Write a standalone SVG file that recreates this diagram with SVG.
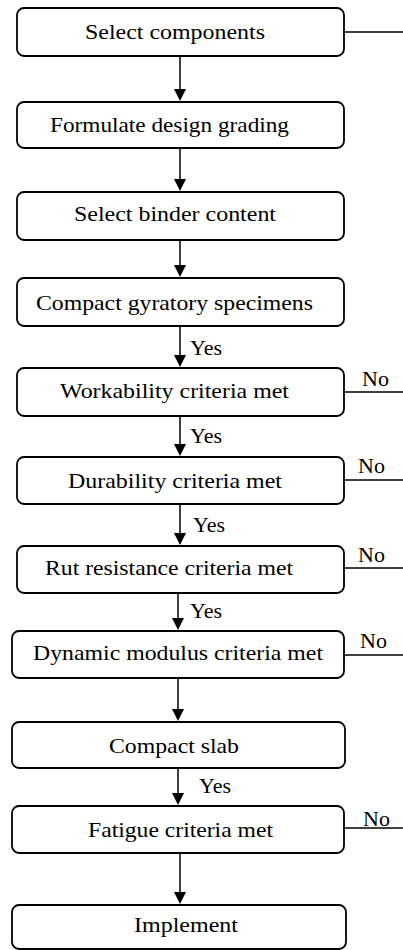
<svg xmlns="http://www.w3.org/2000/svg" width="403" height="950" viewBox="0 0 403 950">
<style>
.box{fill:#fff;stroke:#000;stroke-width:1.8}
.ln{stroke:#000;stroke-width:1.5;fill:none}
.ah{fill:#000}
</style>
<rect width="403" height="950" fill="#fff"/>
<g id="connectors">
<line class="ln" x1="180" y1="56" x2="180" y2="90"/><polygon class="ah" points="174,89 186,89 180,101"/>
<line class="ln" x1="180" y1="148" x2="180" y2="180"/><polygon class="ah" points="174,179 186,179 180,191"/>
<line class="ln" x1="180" y1="240" x2="180" y2="266"/><polygon class="ah" points="174,265 186,265 180,277"/>
<line class="ln" x1="180" y1="326" x2="180" y2="356"/><polygon class="ah" points="174,355 186,355 180,367"/>
<line class="ln" x1="180" y1="416" x2="180" y2="445"/><polygon class="ah" points="174,444 186,444 180,456"/>
<line class="ln" x1="180" y1="504" x2="180" y2="534"/><polygon class="ah" points="174,533 186,533 180,545"/>
<line class="ln" x1="178" y1="593" x2="178" y2="619"/><polygon class="ah" points="172,618 184,618 178,630"/>
<line class="ln" x1="178" y1="678" x2="178" y2="710"/><polygon class="ah" points="172,709 184,709 178,721"/>
<line class="ln" x1="178" y1="768" x2="178" y2="794"/><polygon class="ah" points="172,793 184,793 178,805"/>
<line class="ln" x1="180" y1="853" x2="180" y2="893"/><polygon class="ah" points="174,892 186,892 180,904"/>
<line class="ln" x1="344" y1="32" x2="403" y2="32"/>
<line class="ln" x1="344" y1="392" x2="403" y2="392"/>
<line class="ln" x1="344" y1="480" x2="403" y2="480"/>
<line class="ln" x1="344" y1="568" x2="403" y2="568"/>
<line class="ln" x1="344" y1="655" x2="403" y2="655"/>
<line class="ln" x1="344" y1="828" x2="403" y2="828"/>
<text x="190" y="355" font-family="Liberation Serif, serif" font-size="22">Yes</text>
<text x="190" y="443" font-family="Liberation Serif, serif" font-size="22">Yes</text>
<text x="193" y="532" font-family="Liberation Serif, serif" font-size="22">Yes</text>
<text x="190" y="618" font-family="Liberation Serif, serif" font-size="22">Yes</text>
<text x="199" y="793" font-family="Liberation Serif, serif" font-size="22">Yes</text>
<text x="362" y="386" font-family="Liberation Serif, serif" font-size="22">No</text>
<text x="358" y="473" font-family="Liberation Serif, serif" font-size="22">No</text>
<text x="358" y="562" font-family="Liberation Serif, serif" font-size="22">No</text>
<text x="360" y="648" font-family="Liberation Serif, serif" font-size="22">No</text>
<text x="363" y="826" font-family="Liberation Serif, serif" font-size="22">No</text>
</g>
<g id="n1"><rect class="box" x="17" y="8" width="327" height="48" rx="7"/><text x="85" y="39" font-family="Liberation Serif, serif" font-size="22" textLength="180" lengthAdjust="spacingAndGlyphs">Select components</text></g>
<g id="n2"><rect class="box" x="17" y="102" width="327" height="46" rx="7"/><text x="50" y="132" font-family="Liberation Serif, serif" font-size="22" textLength="239" lengthAdjust="spacingAndGlyphs">Formulate design grading</text></g>
<g id="n3"><rect class="box" x="17" y="192" width="327" height="48" rx="7"/><text x="74" y="221" font-family="Liberation Serif, serif" font-size="22" textLength="202" lengthAdjust="spacingAndGlyphs">Select binder content</text></g>
<g id="n4"><rect class="box" x="17" y="278" width="327" height="48" rx="7"/><text x="36" y="310" font-family="Liberation Serif, serif" font-size="22" textLength="277" lengthAdjust="spacingAndGlyphs">Compact gyratory specimens</text></g>
<g id="n5"><rect class="box" x="17" y="368" width="327" height="48" rx="7"/><text x="60" y="398" font-family="Liberation Serif, serif" font-size="22" textLength="229" lengthAdjust="spacingAndGlyphs">Workability criteria met</text></g>
<g id="n6"><rect class="box" x="17" y="457" width="327" height="47" rx="7"/><text x="68" y="488" font-family="Liberation Serif, serif" font-size="22" textLength="214" lengthAdjust="spacingAndGlyphs">Durability criteria met</text></g>
<g id="n7"><rect class="box" x="17" y="546" width="327" height="47" rx="7"/><text x="45" y="575" font-family="Liberation Serif, serif" font-size="22" textLength="248" lengthAdjust="spacingAndGlyphs">Rut resistance criteria met</text></g>
<g id="n8"><rect class="box" x="12" y="631" width="332" height="47" rx="7"/><text x="33" y="660" font-family="Liberation Serif, serif" font-size="22" textLength="290" lengthAdjust="spacingAndGlyphs">Dynamic modulus criteria met</text></g>
<g id="n9"><rect class="box" x="12" y="722" width="333" height="46" rx="7"/><text x="109" y="753" font-family="Liberation Serif, serif" font-size="22" textLength="130" lengthAdjust="spacingAndGlyphs">Compact slab</text></g>
<g id="n10"><rect class="box" x="12" y="806" width="332" height="47" rx="7"/><text x="88" y="837" font-family="Liberation Serif, serif" font-size="22" textLength="185" lengthAdjust="spacingAndGlyphs">Fatigue criteria met</text></g>
<g id="n11"><rect class="box" x="12" y="905" width="334" height="44" rx="7"/><text x="134" y="932" font-family="Liberation Serif, serif" font-size="22" textLength="104" lengthAdjust="spacingAndGlyphs">Implement</text></g>
</svg>
